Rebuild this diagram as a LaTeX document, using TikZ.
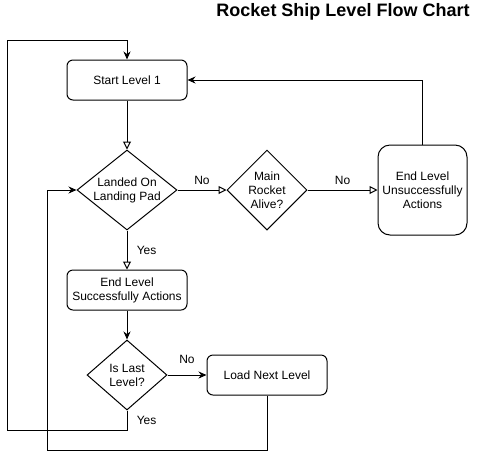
\documentclass[tikz,border=0pt]{standalone}
\usepackage{fontspec}
\setmainfont{Liberation Sans}
\usetikzlibrary{shapes,arrows.meta}
\tikzstyle{stepbox}=[rectangle,rounded corners=6pt,draw=black,
  line width=1pt,minimum width=120pt,minimum height=40pt,align=center,inner sep=2pt]
\tikzstyle{failbox}=[rectangle,rounded corners=12pt,draw=black,
  line width=1pt,minimum width=89pt,minimum height=90pt,align=center,inner sep=2pt]
\tikzstyle{ask}=[diamond,draw=black,line width=1pt,inner sep=0pt]
\tikzstyle{flow}=[line width=1pt,-{Stealth[length=8pt,width=7pt]}]
\tikzstyle{open}=[line width=1pt,-{Triangle[open,length=8pt,width=8pt]}]

\begin{document}
\begin{tikzpicture}[x=1pt,y=-1pt,font=\fontsize{12}{14}\selectfont]
    \useasboundingbox (0,0) rectangle (478,459);
    \node [anchor=base] (title) at (343,16) {\fontsize{18}{21}\selectfont\bfseries Rocket Ship Level Flow Chart};
    \node [style=stepbox] (start) at (127,80) {Start Level 1};
    \node [style=ask,minimum width=100pt,minimum height=80pt,
      label={[align=center]center:Landed On\\Landing Pad}] (landed) at (127,190) {};
    \node [style=ask,minimum width=80pt,minimum height=80pt,
      label={[align=center]center:Main\\Rocket\\Alive?}] (alive) at (267,190) {};
    \node [style=failbox] (fail) at (422.5,190) {End Level\\Unsuccessfully\\Actions};
    \node [style=stepbox] (win) at (127,290) {End Level\\Successfully Actions};
    \node [style=ask,minimum width=80pt,minimum height=70pt,
      label={[align=center]center:Is Last\\Level?}] (last) at (127,375) {};
    \node [style=stepbox] (next) at (267,375) {Load Next Level};
    \coordinate (outerbot) at (7,430);
    \coordinate (outertop) at (7,40);
    \coordinate (innerbot) at (47,450);
    \draw [style=open] (start) to (landed);
    \draw [style=open] (landed) to node [above=2pt] {No} (alive);
    \draw [style=open] (alive) to node [above=2pt] {No} (fail);
    \draw [style=open] (landed) to node [right=6pt] {Yes} (win);
    \draw [style=flow] (fail.north) |- (start.east);
    \draw [style=flow] (win) to (last);
    \draw [style=flow] (last) to node [above=8pt] {No} (next);
    \draw [style=flow] (last.south) |- node [pos=0.25,right=6pt] {Yes} (outerbot)
      -- (outertop) -| (start.north);
    \draw [style=flow] (next.south) |- (innerbot) |- (landed.west);
  \end{tikzpicture}
\end{document}
